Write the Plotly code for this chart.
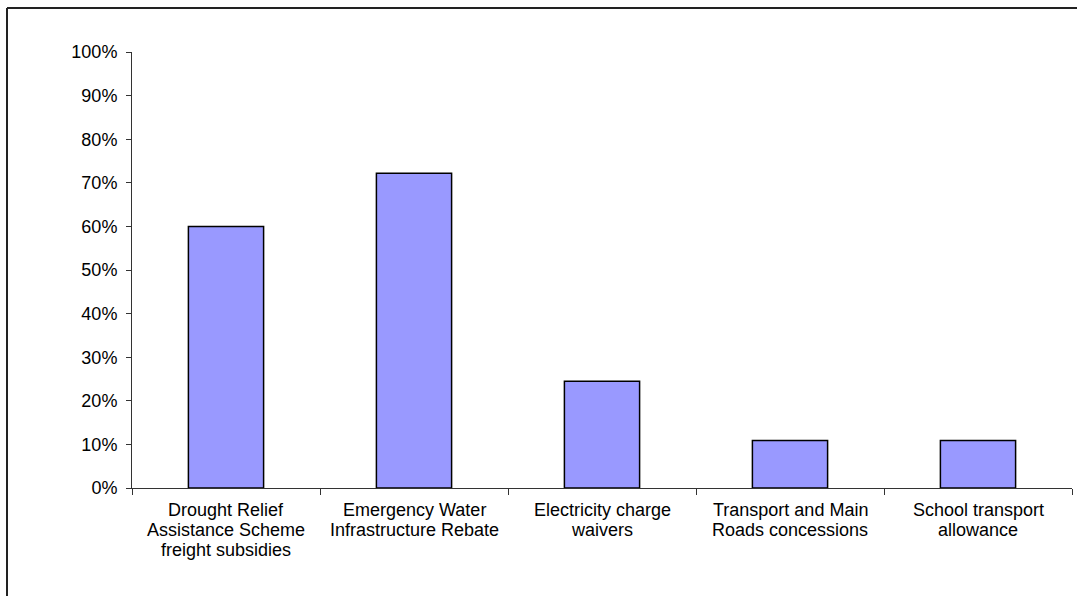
import plotly.graph_objects as go

categories = [
    "Drought Relief Assistance Scheme freight subsidies",
    "Emergency Water Infrastructure Rebate",
    "Electricity charge waivers",
    "Transport and Main Roads concessions",
    "School transport allowance",
]
label_lines = [
    ["Drought Relief", "Assistance Scheme", "freight subsidies"],
    ["Emergency Water", "Infrastructure Rebate"],
    ["Electricity charge", "waivers"],
    ["Transport and Main", "Roads concessions"],
    ["School transport", "allowance"],
]
values = [0.60, 0.722, 0.245, 0.109, 0.109]
y_ticks = [0, 0.1, 0.2, 0.3, 0.4, 0.5, 0.6, 0.7, 0.8, 0.9, 1.0]

W, H = 1077, 596
L, R, T, B = 132, 1072, 52, 488
FONT = "Liberation Sans, Arial, sans-serif"

fig = go.Figure(go.Bar(
    x=categories, y=values, width=0.4,
    marker=dict(color="#9999FF", line=dict(color="#000000", width=1.5)),
))

fig.update_layout(
    width=W, height=H,
    margin=dict(l=L, r=W - R, t=T, b=H - B, pad=0),
    paper_bgcolor="white", plot_bgcolor="white",
    font=dict(family=FONT, size=18, color="#000000"),
    showlegend=False,
)
fig.update_yaxes(
    range=[0, 1], tickvals=y_ticks, tickformat=".0%",
    showgrid=False, zeroline=False,
    showline=True, linecolor="#333333", linewidth=1,
    ticks="outside", ticklen=5, tickcolor="#333333",
    ticklabelstandoff=5,
    tickfont=dict(size=18),
)
fig.update_xaxes(
    showgrid=False, showline=True, linecolor="#333333", linewidth=1,
    ticks="outside", ticklen=6, tickcolor="#333333", tickson="boundaries",
    showticklabels=False,
)

for cat, lines in zip(categories, label_lines):
    for i, line in enumerate(lines):
        fig.add_annotation(
            x=cat, y=0, xref="x", yref="y", text=line, showarrow=False,
            yanchor="middle", xanchor="center", yshift=-22 - 20 * i,
            font=dict(family=FONT, size=18, color="#000000"),
        )

pw, ph = R - L, B - T
x0 = (7 - L) / pw
y0 = (B - 8) / ph
fig.add_shape(type="line", xref="paper", yref="paper", x0=x0, x1=(W + 5 - L) / pw, y0=y0, y1=y0,
              line=dict(color="#222222", width=2))
fig.add_shape(type="line", xref="paper", yref="paper", x0=x0, x1=x0, y0=y0, y1=(B - H - 5) / ph,
              line=dict(color="#222222", width=2))

fig.write_html("out.html")
